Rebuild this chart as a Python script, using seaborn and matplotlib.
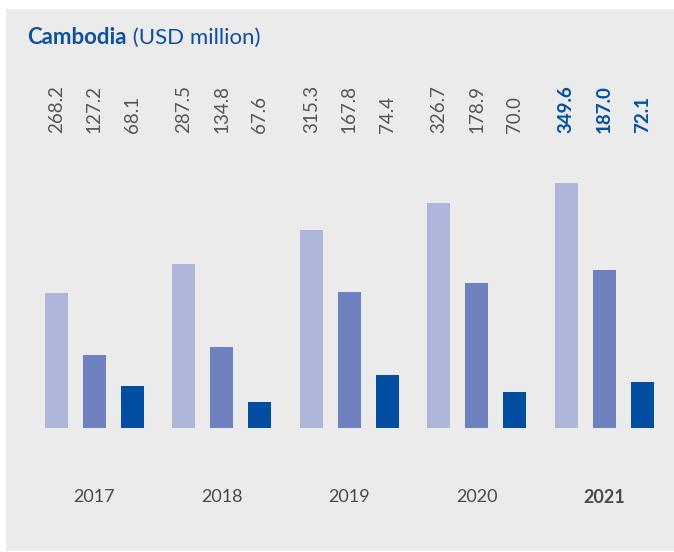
import matplotlib
matplotlib.use("Agg")
import matplotlib.pyplot as plt
import seaborn as sns
import pandas as pd
from matplotlib.patches import Rectangle
from matplotlib.transforms import blended_transform_factory

# ---- data ----
years = ["2017", "2018", "2019", "2020", "2021"]
series = ["A", "B", "C"]
# values shown as labels (USD million)
labels_a = [268.2, 287.5, 315.3, 326.7, 349.6]
labels_b = [127.2, 134.8, 167.8, 178.9, 187.0]
labels_c = [68.1, 67.6, 74.4, 70.0, 72.1]
# bar lengths as drawn in the reference (illustrative scale)
heights_a = [134.5, 163.5, 198, 225, 245]
heights_b = [72.5, 81, 136, 145, 158]
heights_c = [41.5, 25.5, 53, 36, 46]

colors = ["#AEB6DC", "#6F80BE", "#004DA2"]

rows = []
for s, hs in zip(series, [heights_a, heights_b, heights_c]):
    for y, h in zip(years, hs):
        rows.append({"year": y, "series": s, "height": h})
df = pd.DataFrame(rows)

sns.set_theme(style="white")
plt.rcParams['font.family'] = ['Lato', 'DejaVu Sans']

W, H = 674, 552
fig = plt.figure(figsize=(W / 100, H / 100), dpi=100)
fig.patch.set_facecolor("white")
fig.patches.append(Rectangle((6 / W, 1 / H), (W - 6) / W, (H - 10) / H,
                             transform=fig.transFigure, facecolor="#EBEBEB",
                             edgecolor="none", zorder=-10))

left_px = 94.3 - 127.5 / 2
ax = fig.add_axes([left_px / W, (H - 427.7) / H, 637.5 / W, 250 / H])
ax.set_facecolor("none")

sns.barplot(data=df, x="year", y="height", hue="series", order=years,
            hue_order=series, palette=colors, width=0.894, gap=0.40,
            dodge=True, legend=False, ax=ax, saturation=1, linewidth=0)

ax.set_xlim(-0.5, 4.5)
ax.set_ylim(0, 250)
for sp in ax.spines.values():
    sp.set_visible(False)
ax.set_yticks([])
ax.set_xlabel("")
ax.set_ylabel("")
ax.tick_params(axis="x", length=0, pad=44, labelsize=13, labelcolor="#4A4A4A")
for t in ax.get_xticklabels():
    if t.get_text() == "2021":
        t.set_fontweight("bold")

# value labels
trans = blended_transform_factory(ax.transData, fig.transFigure)
label_sets = [labels_a, labels_b, labels_c]
bars = [p for p in ax.patches if p.get_height() > 0]
for i, s in enumerate(series):
    for j, y in enumerate(years):
        p = bars[i * len(years) + j]
        xc = p.get_x() + p.get_width() / 2
        last = (y == "2021")
        ax.text(xc, (H - 133) / H, f"{label_sets[i][j]:.1f}", transform=trans,
                rotation=90, ha="center", va="bottom", fontsize=13.5,
                color="#0050A2" if last else "#555555",
                fontweight="bold" if last else "normal", clip_on=False)

# title
t1 = fig.text(27 / W, (H - 44) / H, "Cambodia", fontsize=16, fontweight="bold",
              color="#0D4FA0", va="baseline", ha="left")
fig.text(0, 0, " (USD million)", fontsize=16, color="#0D4FA0",
         va="baseline", ha="left")
fig.canvas.draw()
bb = t1.get_window_extent()
fig.texts[-1].set_position((bb.x1 / (W), (H - 44) / H))

fig.savefig("out.png", dpi=100, facecolor=fig.get_facecolor())
